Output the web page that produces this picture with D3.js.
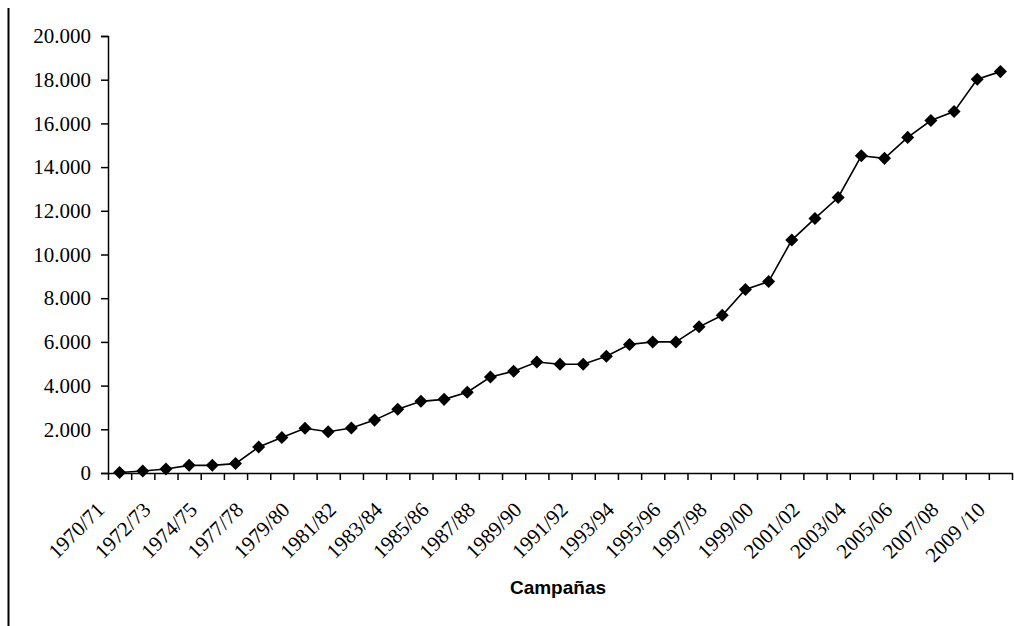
<!DOCTYPE html>
<html>
<head>
<meta charset="utf-8">
<style>
  body { margin: 0; background: #fff; }
  svg { display: block; }
  .serif { font-family: "Liberation Serif", "Times New Roman", "DejaVu Serif", serif; }
</style>
</head>
<body>
<script src="https://d3js.org/d3.v7.min.js"></script>
<script>
// seasons (one season between 1974/75 and 1977/78 is not labelled)
var campanas = ["1970/71", "1971/72", "1972/73", "1973/74", "1974/75", "1975/76",
  "1977/78", "1978/79", "1979/80", "1980/81", "1981/82", "1982/83", "1983/84",
  "1984/85", "1985/86", "1986/87", "1987/88", "1988/89", "1989/90", "1990/91",
  "1991/92", "1992/93", "1993/94", "1994/95", "1995/96", "1996/97", "1997/98",
  "1998/99", "1999/00", "2000/01", "2001/02", "2002/03", "2003/04", "2004/05",
  "2005/06", "2006/07", "2007/08", "2008/09", "2009 /10"];

var valores = [20, 90, 180, 350, 350, 430,
  1190, 1620, 2050, 1890, 2060, 2420, 2920,
  3280, 3370, 3700, 4390, 4660, 5080, 4980,
  4980, 5340, 5880, 6000, 6000, 6690, 7220,
  8400, 8760, 10660, 11650, 12610, 14520, 14400,
  15360, 16130, 16540, 18020, 18370];

var yTicks = [0, 2000, 4000, 6000, 8000, 10000, 12000, 14000, 16000, 18000, 20000];

var width = 1014, height = 626;
var plotLeft = 108, plotRight = 1012, plotTop = 36, plotBottom = 473;

var svg = d3.select("body").append("svg")
    .attr("width", width)
    .attr("height", height);

// border line at the left of the picture
svg.append("line")
    .attr("x1", 8.5).attr("x2", 8.5)
    .attr("y1", 8).attr("y2", height)
    .attr("stroke", "#000")
    .attr("stroke-width", 2);

var x = d3.scaleBand().domain(campanas).range([plotLeft, plotRight]);
var xIdx = d3.scaleLinear().domain([0, campanas.length]).range([plotLeft, plotRight]);
var y = d3.scaleLinear().domain([0, 20000]).range([plotBottom, plotTop]);

var es = d3.formatLocale({ decimal: ",", thousands: ".", grouping: [3], currency: ["", "€"] });
var fmt = es.format(",.0f");

// y axis
var yAxis = svg.append("g")
    .attr("transform", "translate(" + plotLeft + ",0)")
    .call(d3.axisLeft(y).tickValues(yTicks).tickSize(7).tickPadding(10).tickFormat(fmt));
yAxis.attr("font-family", null).attr("font-size", null);
yAxis.select(".domain").attr("stroke-width", 1.5);
yAxis.selectAll(".tick line").attr("stroke-width", 1.5);
yAxis.selectAll("text")
    .attr("class", "serif")
    .style("font-size", "21px")
    .attr("fill", "#000");

// x axis: ticks between categories
var xAxis = svg.append("g")
    .attr("transform", "translate(0," + plotBottom + ")")
    .call(d3.axisBottom(xIdx).tickValues(d3.range(campanas.length + 1)).tickSize(7).tickSizeOuter(0).tickFormat(""));
xAxis.select(".domain").attr("stroke-width", 1.5);
xAxis.selectAll(".tick line").attr("stroke-width", 1.5);

// category labels, every second one, rotated
svg.append("g").selectAll("text")
    .data(campanas.filter(function (d, i) { return i % 2 === 0; }))
    .enter().append("text")
    .attr("class", "serif")
    .attr("transform", function (d) {
      return "translate(" + (x(d) + x.bandwidth() / 2 - 14) + "," + (plotBottom + 38) + ") rotate(-45)";
    })
    .attr("text-anchor", "end")
    .style("font-size", "21px")
    .attr("fill", "#000")
    .text(function (d) { return d; });

// line
var line = d3.line()
    .x(function (d, i) { return x(campanas[i]) + x.bandwidth() / 2; })
    .y(function (d) { return y(d); });

svg.append("path")
    .datum(valores)
    .attr("d", line)
    .attr("fill", "none")
    .attr("stroke", "#000")
    .attr("stroke-width", 1.6);

// diamond markers
svg.append("g").selectAll("path")
    .data(valores)
    .enter().append("path")
    .attr("d", d3.symbol(d3.symbolSquare, 85))
    .attr("transform", function (d, i) {
      return "translate(" + (x(campanas[i]) + x.bandwidth() / 2) + "," + y(d) + ") rotate(45)";
    })
    .attr("fill", "#000");

// axis title
svg.append("text")
    .attr("x", 558)
    .attr("y", 594)
    .attr("text-anchor", "middle")
    .style("font-family", "'Liberation Sans', Arial, sans-serif")
    .style("font-weight", "bold")
    .style("font-size", "19px")
    .attr("fill", "#000")
    .text("Campañas");
</script>
</body>
</html>
